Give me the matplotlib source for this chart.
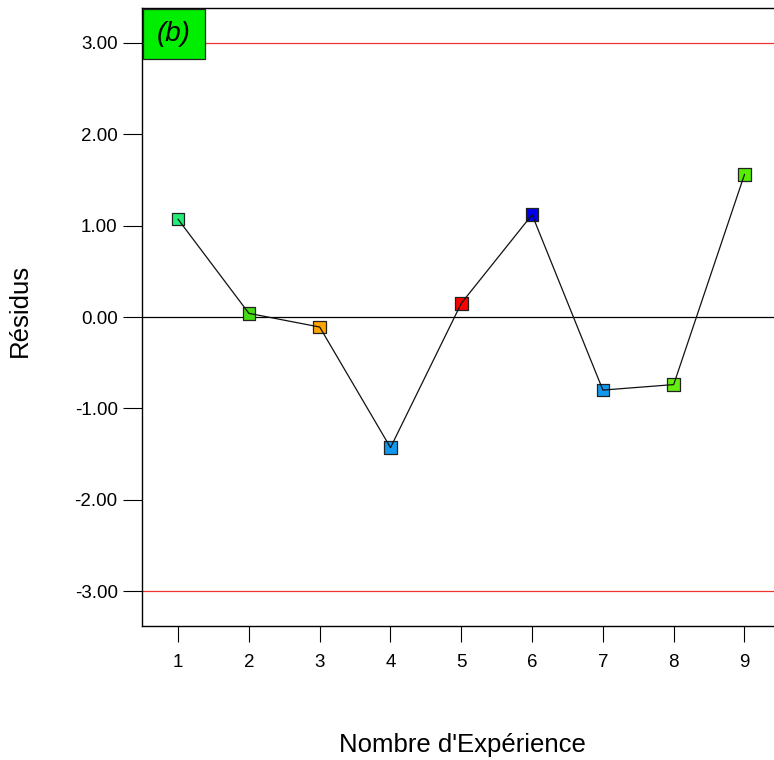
import matplotlib
matplotlib.use("Agg")
import matplotlib.pyplot as plt
from matplotlib.patches import Rectangle

plt.rcParams['font.family'] = ['Liberation Sans', 'DejaVu Sans']

# Residuals per experiment run
experiences = [1, 2, 3, 4, 5, 6, 7, 8, 9]
residus = [1.07, 0.04, -0.11, -1.43, 0.15, 1.12, -0.80, -0.74, 1.56]
point_colors = ['#22ee77', '#44dd11', '#ffa500', '#1199ee', '#ff0000',
                '#0000ee', '#1199ee', '#66ee11', '#55ee00']
limites = [-3.0, 3.0]
y_ticks = [-3.0, -2.0, -1.0, 0.0, 1.0, 2.0, 3.0]

fig = plt.figure(figsize=(7.74, 7.6), dpi=100)
ax = fig.add_axes([142/774, 134/760, 640/774, 618/760])

# Control limits and zero line
for lim in limites:
    ax.axhline(lim, color='#ee3333', lw=0.9, zorder=1)
ax.axhline(0, color='black', lw=0.9, zorder=1)

# Markers, then the connecting line drawn over them
ax.scatter(experiences, residus, marker='s', s=80, c=point_colors,
           edgecolors='#222222', linewidths=0.9, zorder=3)
ax.plot(experiences, residus, color='#111111', lw=0.9, zorder=4)

ax.set_xlim(0.49, 9.53)
ax.set_ylim(-3.383, 3.383)
ax.set_xticks(experiences)
ax.set_yticks(y_ticks)
ax.set_yticklabels([f"{v:.2f}" for v in y_ticks])
ax.tick_params(axis='x', length=11.5, width=0.8, labelsize=13.5, pad=8.5)
ax.tick_params(axis='y', length=13.5, width=0.8, labelsize=13.5, pad=4)

for side in ['left', 'bottom', 'top', 'right']:
    ax.spines[side].set_linewidth(1.0)

ax.set_xlabel("Nombre d'Expérience", fontsize=18.5, va='center')
ax.xaxis.set_label_coords(0.5, -0.193)
ax.set_ylabel("Résidus", fontsize=18.5, va='center')
ax.yaxis.set_label_coords(-0.1906, 0.51)

# Panel tag
ax.add_patch(Rectangle((0.0015, 0.917), 0.097, 0.082, transform=ax.transAxes,
                       facecolor='#00ee00', edgecolor='#222222', lw=0.9,
                       zorder=5, clip_on=False))
ax.text(0.05, 0.958, "(b)", transform=ax.transAxes, fontsize=20,
        style='italic', ha='center', va='center', zorder=6)

fig.savefig("out.png", dpi=100)
